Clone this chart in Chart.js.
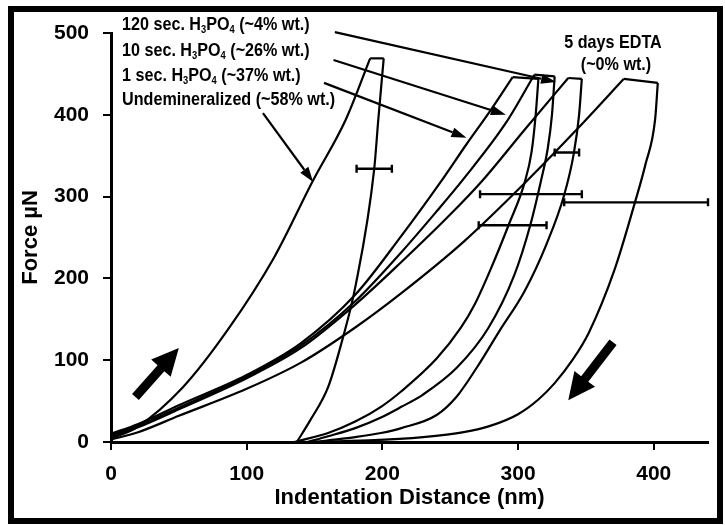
<!DOCTYPE html>
<html>
<head>
<meta charset="utf-8">
<script src="https://cdn.jsdelivr.net/npm/chart.js@4.4.1/dist/chart.umd.min.js"></script>
<style>
  html, body { margin: 0; padding: 0; background: #fff; }
  #wrap { width: 725px; height: 525px; }
</style>
</head>
<body>
<div id="wrap"><canvas id="forceChart" width="725" height="525"></canvas></div>
<script>
// =====================
// DATA  (x = indentation nm, y = force µN)
// =====================
const xTicks = [0, 100, 200, 300, 400];
const yTicks = [0, 100, 200, 300, 400, 500];

// Undemineralized (~58% wt.)
const undemLoad = [[0, 4], [19, 18], [53, 67], [86, 137], [120, 225], [149, 320], [173, 394], [191, 469]];
const undemUnload = [[201, 469], [197, 394], [194, 334], [180, 189], [171, 128], [160, 67], [147, 27], [137, 0]];

// 1 sec. H3PO4 (~37% wt.)
const sec1Load = [[0, 10], [20, 22], [50, 45], [100, 82], [140, 121], [180, 180], [214, 252], [243, 318], [262, 364], [280, 406], [296, 446]];
const sec1Unload = [[315, 444], [313, 400], [310, 355], [305, 318], [293, 265], [280, 212], [268, 168], [258, 140], [240, 102], [214, 62], [199, 43], [180, 25], [160, 11], [140, 2], [135, 0]];

// 10 sec. H3PO4 (~26% wt.)
const sec10Load = [[0, 8], [20, 20], [50, 42], [100, 80], [140, 118], [180, 172], [214, 232], [240, 282], [260, 322], [291, 390], [312, 449]];
const sec10Unload = [[327, 447], [325, 400], [322, 360], [317, 320], [309, 265], [297, 203], [278, 139], [255, 91], [230, 58], [214, 43], [199, 30], [180, 17], [160, 7], [145, 0]];

// 120 sec. H3PO4 (~4% wt.)
const sec120Load = [[0, 6], [20, 18], [50, 40], [100, 78], [140, 115], [180, 168], [214, 220], [250, 278], [274, 320], [305, 382], [337, 445]];
const sec120Unload = [[347, 444], [345, 400], [341, 352], [334, 302], [321, 242], [305, 185], [286, 135], [270, 92], [255, 56], [240, 33], [214, 17], [199, 11], [180, 6], [160, 2], [150, 0]];

// 5 days EDTA (~0% wt.)
const edtaLoad = [[0, 3], [20, 12], [50, 32], [100, 65], [140, 97], [180, 140], [214, 182], [260, 245], [307, 320], [345, 385], [378, 444]];
const edtaUnload = [[403, 439], [401, 394], [394, 340], [386, 292], [371, 210], [352, 133], [340, 100], [327, 72], [315, 52], [300, 34], [280, 20], [260, 12], [230, 6], [190, 2], [140, 0]];

// horizontal error bars (force level, low x, high x)
const errForce = [334, 354, 303, 265, 293];
const errLow = [181, 327, 272, 271, 334];
const errHigh = [207, 345, 347, 321, 440];

// =====================
// ANNOTATIONS (data units)
// =====================
const labelArrows = [
  [165, 501, 328, 440],   // 120 sec
  [164, 467, 291, 400],   // 10 sec
  [157, 439, 262, 372],   // 1 sec
  [112, 402, 149, 318]    // undemineralized
];
const moveArrows = [
  [18, 55, 50, 115],      // loading direction
  [370, 122, 337, 51]     // unloading direction
];

// =====================
// FONTS
// =====================
function hasFont(name) {
  const c = document.createElement("canvas").getContext("2d");
  c.font = "bold 20px monospace";
  const a = c.measureText("Indentation 0123").width;
  c.font = "bold 20px '" + name + "', monospace";
  return c.measureText("Indentation 0123").width !== a;
}
const NARROW = hasFont("Liberation Sans Narrow");
const FONT = NARROW ? "'Liberation Sans Narrow', 'Liberation Sans', Arial, sans-serif" : "'Liberation Sans', Arial, sans-serif";
const SQUEEZE = NARROW ? 1.04 : 0.85;

// =====================
// DATASETS
// =====================
const curves = [
  { name: "Undemineralized", load: undemLoad, unload: undemUnload },
  { name: "1 sec. H3PO4", load: sec1Load, unload: sec1Unload },
  { name: "10 sec. H3PO4", load: sec10Load, unload: sec10Unload },
  { name: "120 sec. H3PO4", load: sec120Load, unload: sec120Unload },
  { name: "5 days EDTA", load: edtaLoad, unload: edtaUnload }
];

function seg(label, pts, smooth) {
  return {
    label: label,
    data: pts.map(p => ({ x: p[0], y: p[1] })),
    borderColor: "#000",
    borderWidth: 2.2,
    pointRadius: 0,
    tension: smooth ? 0.4 : 0,
    cubicInterpolationMode: smooth ? "monotone" : "default",
    fill: false
  };
}

const datasets = [];
curves.forEach(c => {
  datasets.push(seg(c.name + " loading", c.load, true));
  datasets.push(seg(c.name + " hold", [c.load[c.load.length - 1], c.unload[0]], false));
  datasets.push(seg(c.name + " unloading", c.unload, true));
});

// =====================
// DRAW HELPERS
// =====================
function thinArrow(ctx, x0, y0, x1, y1) {
  const a = Math.atan2(y1 - y0, x1 - x0);
  const hl = 15, hw = 5;
  const bx = x1 - hl * Math.cos(a), by = y1 - hl * Math.sin(a);
  ctx.beginPath();
  ctx.moveTo(x0, y0);
  ctx.lineTo(bx, by);
  ctx.stroke();
  ctx.beginPath();
  ctx.moveTo(x1, y1);
  ctx.lineTo(bx + hw * Math.sin(a), by - hw * Math.cos(a));
  ctx.lineTo(bx - hw * Math.sin(a), by + hw * Math.cos(a));
  ctx.closePath();
  ctx.fill();
}

function blockArrow(ctx, x0, y0, x1, y1) {
  const a = Math.atan2(y1 - y0, x1 - x0);
  const hl = 27, hw = 13, sw = 4.5;
  const bx = x1 - hl * Math.cos(a), by = y1 - hl * Math.sin(a);
  const s = Math.sin(a), c = Math.cos(a);
  ctx.beginPath();
  ctx.moveTo(x0 + sw * s, y0 - sw * c);
  ctx.lineTo(bx + sw * s, by - sw * c);
  ctx.lineTo(bx + hw * s, by - hw * c);
  ctx.lineTo(x1, y1);
  ctx.lineTo(bx - hw * s, by + hw * c);
  ctx.lineTo(bx - sw * s, by + sw * c);
  ctx.lineTo(x0 - sw * s, y0 + sw * c);
  ctx.closePath();
  ctx.fill();
}

// parts: [text, isSubscript]
function richText(ctx, parts, x, y, size, align) {
  const big = "bold " + size + "px " + FONT;
  const small = "bold " + Math.round(size * 0.6) + "px " + FONT;
  let w = 0;
  parts.forEach(p => { ctx.font = p[1] ? small : big; w += ctx.measureText(p[0]).width; });
  ctx.save();
  ctx.translate(x, y);
  ctx.scale(SQUEEZE, 1);
  let cx = align === "center" ? -w / 2 : 0;
  ctx.textBaseline = "middle";
  ctx.textAlign = "left";
  parts.forEach(p => {
    ctx.font = p[1] ? small : big;
    ctx.fillText(p[0], cx, p[1] ? size * 0.25 : 0);
    cx += ctx.measureText(p[0]).width;
  });
  ctx.restore();
}

const decorations = {
  id: "decorations",
  afterDatasetsDraw(chart) {
    const { ctx, scales: { x, y } } = chart;
    ctx.save();
    ctx.strokeStyle = "#000";
    ctx.fillStyle = "#000";
    ctx.lineWidth = 2.4;

    // error bars
    errForce.forEach((f, i) => {
      const py = y.getPixelForValue(f);
      const x0 = x.getPixelForValue(errLow[i]);
      const x1 = x.getPixelForValue(errHigh[i]);
      ctx.beginPath();
      ctx.moveTo(x0, py); ctx.lineTo(x1, py);
      ctx.moveTo(x0, py - 4); ctx.lineTo(x0, py + 4);
      ctx.moveTo(x1, py - 4); ctx.lineTo(x1, py + 4);
      ctx.stroke();
    });

    // label arrows
    ctx.lineWidth = 2.2;
    labelArrows.forEach(a => {
      thinArrow(ctx, x.getPixelForValue(a[0]), y.getPixelForValue(a[1]),
        x.getPixelForValue(a[2]), y.getPixelForValue(a[3]));
    });

    // loading / unloading direction arrows
    moveArrows.forEach(a => {
      blockArrow(ctx, x.getPixelForValue(a[0]), y.getPixelForValue(a[1]),
        x.getPixelForValue(a[2]), y.getPixelForValue(a[3]));
    });
    ctx.restore();
  },
  afterDraw(chart) {
    const ctx = chart.ctx;
    ctx.save();
    ctx.fillStyle = "#000";
    const sz = 19;
    richText(ctx, [["120 sec. H", 0], ["3", 1], ["PO", 0], ["4", 1], [" (~4% wt.)", 0]], 122, 25, sz, "left");
    richText(ctx, [["10 sec. H", 0], ["3", 1], ["PO", 0], ["4", 1], [" (~26% wt.)", 0]], 122, 51, sz, "left");
    richText(ctx, [["1 sec. H", 0], ["3", 1], ["PO", 0], ["4", 1], [" (~37% wt.)", 0]], 122, 76, sz, "left");
    richText(ctx, [["Undemineralized (~58% wt.)", 0]], 122, 100, sz, "left");
    richText(ctx, [["5 days EDTA", 0]], 613, 43, sz, "center");
    richText(ctx, [["(~0% wt.)", 0]], 616, 65, sz, "center");

    // outer frame
    ctx.strokeStyle = "#000";
    ctx.lineWidth = 6;
    ctx.strokeRect(11, 9, 709, 512);
    ctx.restore();
  }
};

// =====================
// CHART
// =====================
new Chart(document.getElementById("forceChart"), {
  type: "line",
  data: { datasets: datasets },
  options: {
    responsive: false,
    animation: false,
    devicePixelRatio: 1,
    layout: { padding: { top: 33, right: 17, left: 0, bottom: 0 } },
    plugins: {
      legend: { display: false },
      tooltip: { enabled: false }
    },
    scales: {
      x: {
        type: "linear",
        min: 0,
        max: 440,
        afterBuildTicks: s => { s.ticks = xTicks.map(v => ({ value: v })); },
        afterFit: s => { s.height = 83; },
        border: { display: true, color: "#000", width: 3 },
        grid: { display: true, drawOnChartArea: false, drawTicks: true, tickLength: 8, color: "#000", lineWidth: 2 },
        ticks: { color: "#000", padding: 12, font: { family: FONT, size: 21, weight: "bold" }, maxRotation: 0 },
        title: { display: true, text: "Indentation Distance (nm)", color: "#000", padding: { top: 0, bottom: 14 }, font: { family: FONT, size: 22, weight: "bold" } }
      },
      y: {
        type: "linear",
        min: 0,
        max: 500,
        afterBuildTicks: s => { s.ticks = yTicks.map(v => ({ value: v })); },
        afterFit: s => { s.width = 111; },
        border: { display: true, color: "#000", width: 3 },
        grid: { display: true, drawOnChartArea: false, drawTicks: true, tickLength: 8, color: "#000", lineWidth: 2 },
        ticks: { color: "#000", padding: 14, font: { family: FONT, size: 21, weight: "bold" } },
        title: { display: true, text: "Force µN", color: "#000", padding: { top: 18, bottom: 0 }, font: { family: FONT, size: 22, weight: "bold" } }
      }
    }
  },
  plugins: [decorations]
});
</script>
</body>
</html>
